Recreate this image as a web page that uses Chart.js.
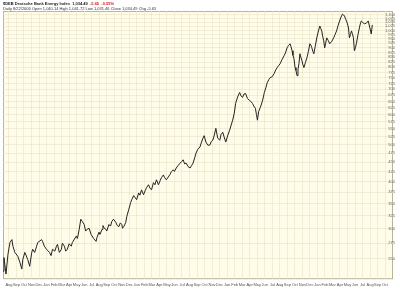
<!DOCTYPE html>
<html>
<head>
<meta charset="utf-8">
<script src="https://cdn.jsdelivr.net/npm/chart.js@4.4.1/dist/chart.umd.min.js"></script>
<style>
  html, body { margin: 0; padding: 0; background: #fff; }
  #wrap { position: relative; width: 400px; height: 290px; }
  #hdr { position: absolute; left: 3px; top: 1px; font-family: 'Liberation Sans', Arial, sans-serif; font-size: 4px; line-height: 5px; color: #333; white-space: nowrap; }
  #hdr b { color: #222; }
  #hdr .dn { color: #d42020; font-weight: bold; }
</style>
</head>
<body>
<div id="wrap">
  <div id="hdr">
    <div><b>$DEB Deutsche Bank Energy Index</b> &nbsp;<b>1,034.49</b> &nbsp;<span class="dn">-5.65 &nbsp;-0.55%</span></div>
    <div>Daily 8/22/2006 Open 1,040.14 High 1,041.72 Low 1,031.46 Close 1,034.49 Chg -5.65</div>
  </div>
  <canvas id="chart" width="400" height="290"></canvas>
</div>
<script>
(function () {
  'use strict';

  // month position (0 = first Aug on the axis), 10 per row
  const monthPos = [
    -0.79, -0.66, -0.39, -0.13, 0.13, 0.39, 0.53, 0.79, 1.18, 1.45,
    1.71, 1.84, 2.11, 2.5, 2.76, 3.03, 3.16, 3.42, 3.68, 3.82,
    4.34, 4.47, 4.7, 5.0, 5.39, 5.6, 5.79, 6.1, 6.32, 6.45,
    6.7, 6.97, 7.1, 7.37, 7.55, 7.76, 8.0, 8.29, 8.42, 8.95,
    9.1, 9.34, 9.55, 9.74, 10.0, 10.2, 10.39, 10.65, 10.92, 11.25,
    11.58, 11.71, 11.97, 12.1, 12.37, 12.5, 12.63, 12.89, 13.0, 13.29,
    13.5, 13.68, 13.9, 14.21, 14.4, 14.61, 14.8, 15.0, 15.1, 15.26,
    15.53, 15.66, 15.92, 16.18, 16.32, 16.58, 16.8, 16.97, 17.24, 17.4,
    17.63, 17.89, 18.1, 18.29, 18.55, 18.75, 18.95, 19.21, 19.4, 19.61,
    19.87, 20.1, 20.26, 20.53, 20.7, 20.92, 21.18, 21.4, 21.58, 21.84,
    22.0, 22.24, 22.5, 22.76, 22.95, 23.16, 23.35, 23.55, 23.8, 24.08,
    24.3, 24.47, 24.7, 24.87, 25.1, 25.39, 25.6, 25.79, 25.95, 26.18,
    26.45, 26.71, 26.9, 27.11, 27.3, 27.5, 27.75, 28.03, 28.2, 28.42,
    28.6, 28.82, 29.1, 29.34, 29.5, 29.74, 29.95, 30.13, 30.4, 30.66,
    30.85, 31.05, 31.25, 31.45, 31.7, 31.97, 32.15, 32.37, 32.55, 32.76,
    32.9, 33.03, 33.2, 33.42, 33.7, 33.95, 34.15, 34.34, 34.55, 34.74,
    35.0, 35.26, 35.45, 35.66, 35.85, 36.05, 36.3, 36.58, 36.75, 36.97,
    37.15, 37.37, 37.5, 37.63, 37.75, 37.89, 38.03, 38.15, 38.29, 38.42,
    38.55, 38.68, 38.8, 38.95, 39.05, 39.21, 39.4, 39.61, 39.8, 40.0,
    40.13, 40.26, 40.4, 40.53, 40.7, 40.92, 41.1, 41.32, 41.45, 41.58,
    41.7, 41.84, 41.97, 42.1, 42.24, 42.45, 42.63, 42.9, 43.16, 43.35,
    43.55, 43.75, 43.95, 44.15, 44.34, 44.48, 44.61, 44.75, 44.87, 45.0,
    45.13, 45.26, 45.4, 45.53, 45.65, 45.79, 45.92, 46.05, 46.18, 46.4,
    46.58, 46.7, 46.84, 47.0, 47.24, 47.5, 47.76, 47.95, 48.16, 48.3
  ];
  // index close at each position, same rows
  const closes = [
    232, 252, 228, 257, 276, 281, 270, 260, 254, 245,
    235, 249, 260, 249, 239, 260, 265, 260, 270, 276,
    281, 278, 270, 265, 260, 255, 265, 262, 270, 273,
    260, 265, 275, 270, 262, 265, 274, 270, 276, 287,
    283, 299, 318, 314, 308, 296, 299, 301, 290, 283,
    278, 285, 294, 290, 299, 306, 302, 299, 296, 308,
    305, 314, 318, 312, 306, 304, 311, 308, 301, 304,
    312, 323, 337, 352, 358, 367, 362, 358, 373, 368,
    380, 369, 378, 385, 392, 384, 380, 397, 392, 404,
    392, 402, 409, 416, 409, 404, 411, 417, 424, 429,
    425, 434, 441, 447, 451, 456, 445, 447, 438, 434,
    441, 447, 462, 475, 486, 493, 508, 520, 528, 508,
    498, 499, 510, 514, 530, 552, 520, 514, 532, 539,
    524, 508, 530, 546, 560, 580, 605, 642, 668, 686,
    672, 666, 680, 682, 662, 654, 650, 642, 632, 623,
    600, 580, 612, 627, 652, 686, 706, 729, 742, 751,
    755, 770, 786, 798, 808, 817, 838, 858, 872, 900,
    912, 922, 905, 884, 860, 842, 798, 785, 760, 790,
    817, 868, 850, 832, 815, 798, 822, 847, 880, 922,
    915, 900, 880, 868, 905, 956, 990, 1027, 1012, 997,
    965, 939, 900, 925, 956, 940, 922, 935, 956, 975,
    997, 1030, 1059, 1085, 1104, 1098, 1091, 1070, 1059, 1040,
    1015, 956, 975, 997, 980, 956, 884, 900, 922, 975,
    1015, 1040, 1059, 1052, 1040, 1045, 1059, 1020, 979, 1034
  ];

  const monthNames = ['Aug', 'Sep', 'Oct', 'Nov', 'Dec', 'Jan', 'Feb', 'Mar', 'Apr', 'May', 'Jun', 'Jul'];
  const monthCount = 51;
  const yTicks = [250, 275, 300, 325, 350, 375, 400, 425, 450, 475, 500, 525, 550, 575, 600, 625,
    650, 675, 700, 725, 750, 775, 800, 825, 850, 875, 900, 925, 950, 975, 1000, 1025, 1050, 1075, 1100];

  const gridCol = '#e9e4c6';
  const tickFont = { size: 4, family: "'Liberation Sans', Arial, sans-serif" };

  const plotBg = {
    id: 'plotBg',
    beforeDraw: function (chart) {
      const a = chart.chartArea, ctx = chart.ctx;
      ctx.save();
      ctx.fillStyle = '#fffdea';
      ctx.fillRect(a.left, a.top, a.right - a.left, a.bottom - a.top);
      ctx.strokeStyle = '#b8b49c';
      ctx.lineWidth = 1;
      ctx.strokeRect(a.left + 0.5, a.top + 0.5, a.right - a.left - 1, a.bottom - a.top - 1);
      ctx.restore();
    }
  };

  new Chart(document.getElementById('chart'), {
    type: 'line',
    data: {
      datasets: [{
        data: monthPos.map(function (m, i) { return { x: m, y: closes[i] }; }),
        borderColor: '#222',
        borderWidth: 1,
        pointRadius: 0,
        tension: 0
      }]
    },
    options: {
      responsive: false,
      animation: false,
      layout: { padding: { top: 11, left: 3, right: 3, bottom: 0 } },
      plugins: { legend: { display: false }, tooltip: { enabled: false } },
      scales: {
        x: {
          type: 'linear',
          min: -0.79,
          max: 51.05,
          afterBuildTicks: function (axis) {
            const t = [];
            for (let i = 0; i < monthCount; i++) t.push({ value: i });
            axis.ticks = t;
          },
          ticks: {
            autoSkip: false, maxRotation: 0, padding: 3, color: '#555', font: tickFont,
            callback: function (v) { return monthNames[Math.round(v) % 12]; }
          },
          grid: { color: gridCol, lineWidth: 0.6, drawTicks: false },
          border: { display: false }
        },
        y: {
          type: 'logarithmic',
          position: 'right',
          min: 221,
          max: 1125,
          afterBuildTicks: function (axis) {
            axis.ticks = yTicks.map(function (v) { return { value: v }; });
          },
          ticks: {
            mirror: true, padding: 2, color: '#666', font: tickFont,
            callback: function (v) { return Number(v).toLocaleString('en-US'); }
          },
          grid: { color: gridCol, lineWidth: 0.6, drawTicks: false },
          border: { display: false }
        }
      }
    },
    plugins: [plotBg]
  });
})();
</script>
</body>
</html>
